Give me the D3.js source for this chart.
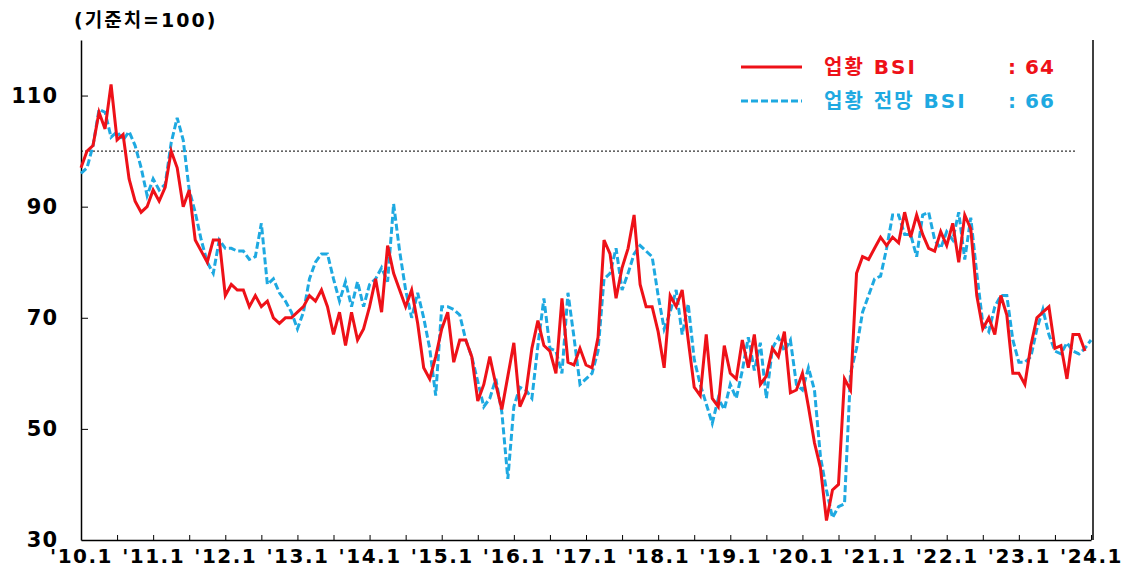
<!DOCTYPE html>
<html>
<head>
<meta charset="utf-8">
<script src="https://cdn.jsdelivr.net/npm/d3@7"></script>
<style>
  body { margin: 0; background: #fff; }
  text { font-family: 'DejaVu Sans', 'Noto Sans CJK KR', sans-serif; font-weight: bold; }
</style>
</head>
<body>
<svg id="chart"></svg>
<script>
// 업황 BSI (monthly, '10.1 ~ '23.12)
const bsi = [
  97, 100, 101, 107, 104, 112, 102, 103, 95, 91,
  89, 90, 93, 91, 93.5, 100, 97, 90, 93, 84,
  82, 80, 84, 84, 74, 76, 75, 75, 72, 74,
  72, 73, 70, 69, 70, 70, 71, 72, 74, 73,
  75, 72, 67, 71, 65, 71, 66, 68, 72, 77,
  71, 83, 78, 75, 72, 75, 69, 61, 59, 63,
  68, 71, 62, 66, 66, 63, 55, 58, 63, 58,
  53.5, 59.5, 65.5, 54, 56.5, 64.5, 69.5, 65, 64, 60,
  73.5, 62, 61.5, 64.5, 61.5, 61, 66.5, 84, 81.5, 73.5,
  79, 82.5, 88.5, 76, 72, 72, 67.5, 61, 74, 72,
  75, 66, 57.5, 56, 67, 55.5, 54, 65, 60, 59,
  66, 61, 67, 58, 59.5, 64.5, 63, 67.5, 56.5, 57,
  60, 54, 47.5, 43, 33.5, 39, 40, 59, 57, 78,
  81, 80.5, 82.5, 84.5, 83, 84.5, 83.5, 89, 84.5, 88.5,
  85, 82.5, 82, 85.5, 83, 87, 80, 88.5, 86, 74,
  68, 70, 67, 74, 70.5, 60, 60, 58, 65, 70,
  71, 72, 64.5, 65, 59, 67, 67, 64
];

// 업황 전망 BSI (monthly, '10.1 ~ '24.1)
const outlook = [
  96, 97, 101, 107.5, 107, 102.5, 103.5, 102, 103.5, 101,
  97, 92, 95, 93, 94, 101.5, 106, 102, 93, 89,
  84, 80, 78, 84, 82.5, 82.5, 82, 82, 80.5, 81,
  87, 76, 77, 74.5, 73, 71, 68, 71, 77, 80,
  81.5, 81.5, 77, 73, 76.5, 72, 76.5, 72, 76, 77,
  79, 76.5, 90.5, 82, 75, 70, 74.5, 70, 64.5, 56,
  72, 72, 71.5, 70.5, 66, 63, 58.5, 54, 55.5, 59,
  53, 41, 54, 57.5, 57, 55.5, 65, 73.5, 64.5, 64,
  60, 74.5, 66.5, 58, 59, 60, 64, 77, 78, 82.5,
  75, 78, 81.5, 83, 82, 81, 74, 68, 71, 75,
  67, 72.5, 62.5, 58, 54.5, 51, 55.5, 53.5, 58, 55.5,
  60.5, 66.5, 60.5, 65.5, 55.5, 64.5, 66.5, 64, 66, 58,
  57, 61, 57, 45, 39, 34, 36, 36.5, 60, 64.5,
  71, 74, 77, 77.5, 82.5, 88.5, 88.5, 85, 85, 81,
  88.5, 89, 84, 82.5, 85.5, 84, 89, 80.5, 88, 78,
  69, 67.5, 72, 74, 74, 66, 62, 62, 63, 68,
  71.5, 67, 64, 63.5, 65.5, 64, 63.5, 64.5, 66
];

const yearLabels = ["'10.1", "'11.1", "'12.1", "'13.1", "'14.1", "'15.1", "'16.1",
  "'17.1", "'18.1", "'19.1", "'20.1", "'21.1", "'22.1", "'23.1", "'24.1"];
const yTicks = [30, 50, 70, 90, 110];
const baseline = 100;

const seriesNames = ['업황 BSI', '업황 전망 BSI'];
const latest = [bsi[bsi.length - 1], outlook[outlook.length - 1]];

const red = '#ee1118';
const blue = '#1ea9e1';

const width = 1127, height = 569;
const plotLeft = 81, plotRight = 1091, plotTop = 40, plotBottom = 540;

// Set up the SVG element
const svg = d3.select('#chart')
  .attr('width', width)
  .attr('height', height);

// Define the scales (x = month index from '10.1)
const x = d3.scaleLinear().domain([0, 168]).range([plotLeft, plotRight]);
const y = d3.scaleLinear().domain([30, 120]).range([plotBottom, plotTop]);

// unit note
svg.append('text')
  .attr('x', 74).attr('y', 27)
  .attr('font-size', 19)
  .style('letter-spacing', '2px')
  .text('(기준치=100)');

// reference line at 100
svg.append('line')
  .attr('x1', plotLeft).attr('x2', 1075)
  .attr('y1', y(baseline)).attr('y2', y(baseline))
  .attr('stroke', '#333').attr('stroke-width', 1.3)
  .attr('stroke-dasharray', '2,2');

// Set up the axes
const xAxis = d3.axisBottom(x)
  .tickValues(d3.range(0, 169, 6))
  .tickSizeInner(-5).tickSizeOuter(0)
  .tickPadding(9)
  .tickFormat(d => d % 12 === 0 ? yearLabels[d / 12] : '');

const gx = svg.append('g')
  .attr('transform', `translate(0, ${plotBottom})`)
  .call(xAxis);
gx.select('.domain').attr('stroke', '#000').attr('stroke-width', 1.5);
gx.selectAll('.tick line').attr('stroke', '#000');
gx.selectAll('.tick text')
  .attr('font-size', 20).attr('fill', '#000')
  .attr('font-family', "'DejaVu Sans', sans-serif")
  .style('letter-spacing', '1.5px');

const yAxis = d3.axisLeft(y)
  .tickValues(yTicks)
  .tickSizeInner(-7).tickSizeOuter(0)
  .tickPadding(23);

const gy = svg.append('g')
  .attr('transform', `translate(${plotLeft}, 0)`)
  .call(yAxis);
gy.select('.domain').attr('stroke', '#000').attr('stroke-width', 1.5);
gy.selectAll('.tick line').attr('stroke', d => d === 30 ? 'none' : '#000');
gy.selectAll('.tick text')
  .attr('font-size', 21).attr('fill', '#000')
  .style('letter-spacing', '1px');

// right border
svg.append('line')
  .attr('x1', 1093).attr('x2', 1093)
  .attr('y1', plotTop).attr('y2', plotBottom)
  .attr('stroke', '#000').attr('stroke-width', 1.5);

// Draw the lines
const line = d3.line()
  .x((d, i) => x(i))
  .y(d => y(d));

svg.append('path')
  .datum(outlook)
  .attr('d', line)
  .attr('fill', 'none')
  .attr('stroke', blue)
  .attr('stroke-width', 3)
  .attr('stroke-dasharray', '7,3');

svg.append('path')
  .datum(bsi)
  .attr('d', line)
  .attr('fill', 'none')
  .attr('stroke', red)
  .attr('stroke-width', 3)
  .attr('stroke-linejoin', 'miter');

// Legend
const legend = svg.append('g');
const rows = [
  { name: seriesNames[0], value: latest[0], color: red, dash: null, y: 67 },
  { name: seriesNames[1], value: latest[1], color: blue, dash: '7,3', y: 101 }
];
rows.forEach(r => {
  legend.append('line')
    .attr('x1', 741).attr('x2', 802)
    .attr('y1', r.y).attr('y2', r.y)
    .attr('stroke', r.color).attr('stroke-width', 3)
    .attr('stroke-dasharray', r.dash);
  legend.append('text')
    .attr('x', 824).attr('y', r.y + 7)
    .attr('font-size', 20).attr('fill', r.color)
    .style('letter-spacing', '2px')
    .text(r.name);
  legend.append('text')
    .attr('x', 1008).attr('y', r.y + 7)
    .attr('font-size', 20).attr('fill', r.color)
    .style('letter-spacing', '1px')
    .text(': ' + r.value);
});
</script>
</body>
</html>
